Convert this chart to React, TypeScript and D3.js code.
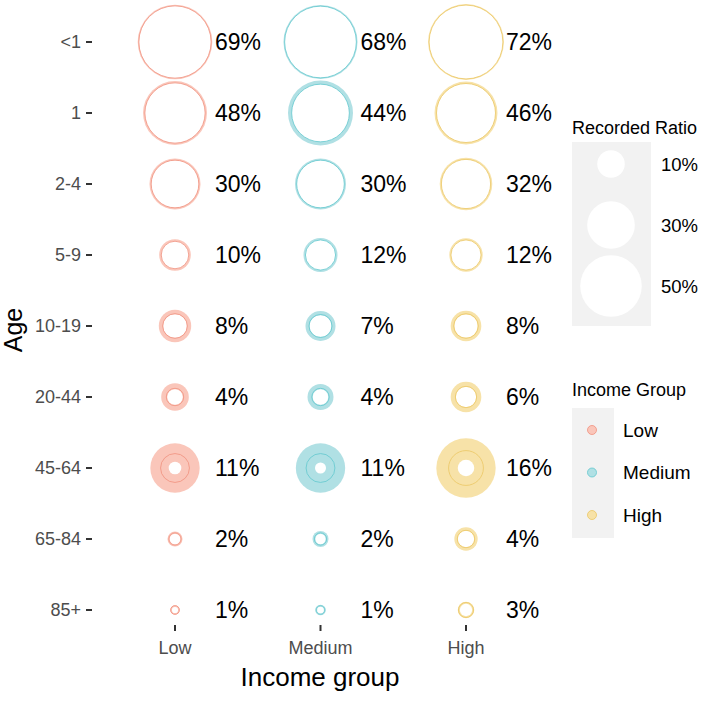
import React from "react";
import * as d3 from "d3";

const ages = ["<1", "1", "2-4", "5-9", "10-19", "20-44", "45-64", "65-84", "85+"];
const groups = ["Low", "Medium", "High"];

// labelled recorded ratio (%)
const ratioLow = [69, 48, 30, 10, 8, 4, 11, 2, 1];
const ratioMedium = [68, 44, 30, 12, 7, 4, 11, 2, 1];
const ratioHigh = [72, 46, 32, 12, 8, 6, 16, 4, 3];

// outer filled circle (same size units, %)
const outerLow = [73.5, 54, 34.4, 13.2, 13.9, 10.1, 32.2, 3.0, 1.2];
const outerMedium = [72.5, 55.8, 34.4, 15.3, 11.9, 8.9, 32.2, 3.4, 1.5];
const outerHigh = [76, 52.4, 36.5, 14.7, 12.4, 12.4, 46.6, 7.2, 3.6];

// inner white circle (same size units, %)
const innerLow = [69, 48, 30, 10, 7.4, 3.2, 2.1, 1.5, 0.5];
const innerMedium = [68, 44, 30, 12, 6.2, 3.2, 1.6, 1.4, 0.6];
const innerHigh = [72, 46, 32, 12, 7, 5.5, 3.6, 3.6, 2.0];

const legendRatios = [10, 30, 50];

const fills: Record<string, string> = { Low: "#FAC6BA", Medium: "#B0E0E4", High: "#F7E2A8" };
const strokes: Record<string, string> = { Low: "#F0907E", Medium: "#62C8CE", High: "#EBC763" };

const ratioByGroup: Record<string, number[]> = { Low: ratioLow, Medium: ratioMedium, High: ratioHigh };
const outerByGroup: Record<string, number[]> = { Low: outerLow, Medium: outerMedium, High: outerHigh };
const innerByGroup: Record<string, number[]> = { Low: innerLow, Medium: innerMedium, High: innerHigh };

const FONT = "'Liberation Sans', Arial, Helvetica, sans-serif";

export default function App() {
  const x = d3.scalePoint<string>().domain(groups).range([175, 466]);
  const y = d3.scalePoint<string>().domain(ages).range([42, 610]);
  const r = d3.scaleSqrt().domain([0, 100]).range([0, 43.5]);

  const legY = d3.scalePoint<string>().domain(legendRatios.map(String)).range([164, 286]);
  const legend2Y = d3.scalePoint<string>().domain(groups).range([430, 515]);

  return (
    <svg
      width={708}
      height={717}
      style={{ position: "absolute", left: 0, top: 0, display: "block", background: "#fff" }}
      fontFamily={FONT}
    >
      {/* cells */}
      {groups.map((g) =>
        ages.map((a, i) => {
          const cx = x(g)!;
          const cy = y(a)!;
          return (
            <g key={g + a}>
              <circle cx={cx} cy={cy} r={r(outerByGroup[g][i])} fill={fills[g]} />
              <circle cx={cx} cy={cy} r={r(innerByGroup[g][i])} fill="#fff" />
              <circle
                cx={cx}
                cy={cy}
                r={r(ratioByGroup[g][i])}
                fill="none"
                stroke={strokes[g]}
                strokeWidth={0.8}
              />
              <text x={cx + 40} y={cy} dominantBaseline="central" fontSize={23} fill="#000">
                {ratioByGroup[g][i]}%
              </text>
            </g>
          );
        })
      )}

      {/* y axis */}
      {ages.map((a) => (
        <g key={"y" + a}>
          <line x1={86} x2={92} y1={y(a)} y2={y(a)} stroke="#333" strokeWidth={2} />
          <text x={81} y={y(a)} dominantBaseline="central" textAnchor="end" fontSize={18} fill="#4D4D4D">
            {a}
          </text>
        </g>
      ))}
      <text
        transform={`translate(13,330) rotate(-90)`}
        textAnchor="middle"
        dominantBaseline="central"
        fontSize={25}
        fill="#000"
      >
        Age
      </text>

      {/* x axis */}
      {groups.map((g) => (
        <g key={"x" + g}>
          <line x1={x(g)} x2={x(g)} y1={625} y2={631} stroke="#333" strokeWidth={2} />
          <text x={x(g)} y={648} dominantBaseline="central" textAnchor="middle" fontSize={18} fill="#4D4D4D">
            {g}
          </text>
        </g>
      ))}
      <text x={320} y={677} dominantBaseline="central" textAnchor="middle" fontSize={26} fill="#000">
        Income group
      </text>

      {/* legend: recorded ratio */}
      <text x={572} y={128} dominantBaseline="central" fontSize={18} fill="#000">
        Recorded Ratio
      </text>
      <rect x={572} y={142} width={79} height={184} fill="#F2F2F2" />
      {legendRatios.map((v) => (
        <g key={"lr" + v}>
          <circle cx={611} cy={legY(String(v))} r={r(v)} fill="#fff" />
          <text x={661} y={legY(String(v))} dominantBaseline="central" fontSize={18.5} fill="#000">
            {v}%
          </text>
        </g>
      ))}

      {/* legend: income group */}
      <text x={572} y={390} dominantBaseline="central" fontSize={18} fill="#000">
        Income Group
      </text>
      <rect x={572} y={408} width={42} height={130} fill="#F2F2F2" />
      {groups.map((g) => (
        <g key={"lg" + g}>
          <circle cx={592} cy={legend2Y(g)} r={4.5} fill={fills[g]} stroke={strokes[g]} strokeWidth={0.8} />
          <text x={623} y={legend2Y(g)} dominantBaseline="central" fontSize={19} fill="#000">
            {g}
          </text>
        </g>
      ))}
    </svg>
  );
}
